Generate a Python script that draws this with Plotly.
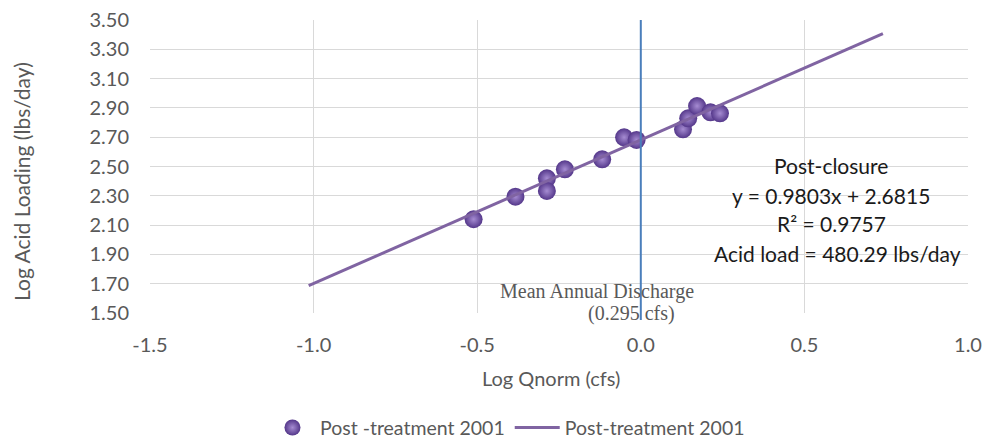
import plotly.graph_objects as go

# Data
log_q = [-0.511, -0.383, -0.287, -0.287, -0.232, -0.118, -0.051, -0.013,
         0.129, 0.145, 0.172, 0.213, 0.242]
log_acid = [2.140, 2.294, 2.419, 2.333, 2.481, 2.549, 2.699, 2.681,
            2.754, 2.829, 2.913, 2.870, 2.863]

slope = 0.9803
intercept = 2.6815
trend_x = [-1.015, 0.74]
trend_y = [slope * v + intercept for v in trend_x]

x_ticks = [-1.5, -1.0, -0.5, 0.0, 0.5, 1.0]
x_tick_text = ["-1.5", "-1.0", "-0.5", "0.0", "0.5", "1.0"]
y_ticks = [1.5, 1.7, 1.9, 2.1, 2.3, 2.5, 2.7, 2.9, 3.1, 3.3, 3.5]
y_tick_text = ["%.2f" % v for v in y_ticks]

mean_discharge_log = 0.0

eq_lines = ["Post-closure", "y = 0.9803x + 2.6815", "R² = 0.9757",
            "Acid load = 480.29 lbs/day"]

FONT = "Lato"
GRAY = "#595959"

fig = go.Figure()
fig.add_trace(go.Scatter(
    x=log_q, y=log_acid, mode="markers", name="Post -treatment 2001",
    marker=dict(size=18, color="#54378A",
                gradient=dict(type="radial", color="#A68CD2"),
                line=dict(width=0)),
))
fig.add_trace(go.Scatter(
    x=trend_x, y=trend_y, mode="lines", name="Post-treatment 2001",
    line=dict(color="#8064A2", width=3),
))

fig.add_shape(type="line", xref="x", yref="paper",
              x0=mean_discharge_log, x1=mean_discharge_log, y0=-0.024, y1=1.0,
              line=dict(color="#4A7EBB", width=2))

# equation box
fig.add_shape(type="rect", xref="paper", yref="y",
              x0=0.687, x1=0.996, y0=1.80, y1=2.63,
              fillcolor="white", line=dict(width=0), layer="below")

eq_y = [2.51, 2.30, 2.108, 1.903]
eq_x = [0.833, 0.833, 0.833, 0.841]
for txt, xx, yy in zip(eq_lines, eq_x, eq_y):
    fig.add_annotation(x=xx, xref="paper", y=yy, yref="y", text=txt,
                       showarrow=False, xanchor="center", yanchor="middle",
                       font=dict(family=FONT, size=21, color="#1a1a1a"))

fig.add_annotation(x=-0.135, xref="x", y=1.65, yref="y",
                   text="Mean Annual Discharge", showarrow=False,
                   xanchor="center", yanchor="middle",
                   font=dict(family="Liberation Serif", size=20, color=GRAY))
fig.add_annotation(x=-0.027, xref="x", y=1.50, yref="y",
                   text="(0.295 cfs)", showarrow=False,
                   xanchor="center", yanchor="middle",
                   font=dict(family="Liberation Serif", size=20, color=GRAY))

# axis titles
fig.add_annotation(x=0.49, xref="paper", y=-0.222, yref="paper",
                   text="Log Qnorm (cfs)", showarrow=False,
                   xanchor="center", yanchor="middle",
                   font=dict(family=FONT, size=20, color=GRAY))
fig.add_annotation(x=-0.158, xref="paper", y=0.45, yref="paper",
                   text="Log Acid Loading (lbs/day)", showarrow=False,
                   textangle=-90, xanchor="center", yanchor="middle",
                   font=dict(family=FONT, size=21, color=GRAY))

fig.update_layout(
    width=987, height=440,
    margin=dict(l=150, r=19, t=20, b=127, autoexpand=False),
    paper_bgcolor="white", plot_bgcolor="white",
    font=dict(family=FONT, size=20, color=GRAY),
    showlegend=True,
    legend=dict(orientation="h", x=0.437, xanchor="center", y=-0.392,
                yanchor="middle", font=dict(family=FONT, size=19.5, color=GRAY),
                itemwidth=45),
    xaxis=dict(range=[-1.5, 1.0], tickvals=x_ticks, ticktext=x_tick_text,
               showgrid=True, gridcolor="#D9D9D9", gridwidth=1,
               zeroline=False, showline=False, ticks="", automargin=False,
               ticklabelstandoff=18, ticklabeloverflow="allow",
               tickfont=dict(family=FONT, size=20, color=GRAY)),
    yaxis=dict(range=[1.5, 3.5], tickvals=y_ticks, ticktext=y_tick_text,
               showgrid=True, gridcolor="#D9D9D9", gridwidth=1,
               zeroline=False, showline=False, ticks="", automargin=False,
               ticklabelstandoff=20, ticklabeloverflow="allow",
               tickfont=dict(family=FONT, size=20, color=GRAY)),
)

fig.write_html("out.html",
               config={"displayModeBar": False},
               post_script="document.body.style.margin='0px';"
                           "document.body.style.overflow='hidden';")
